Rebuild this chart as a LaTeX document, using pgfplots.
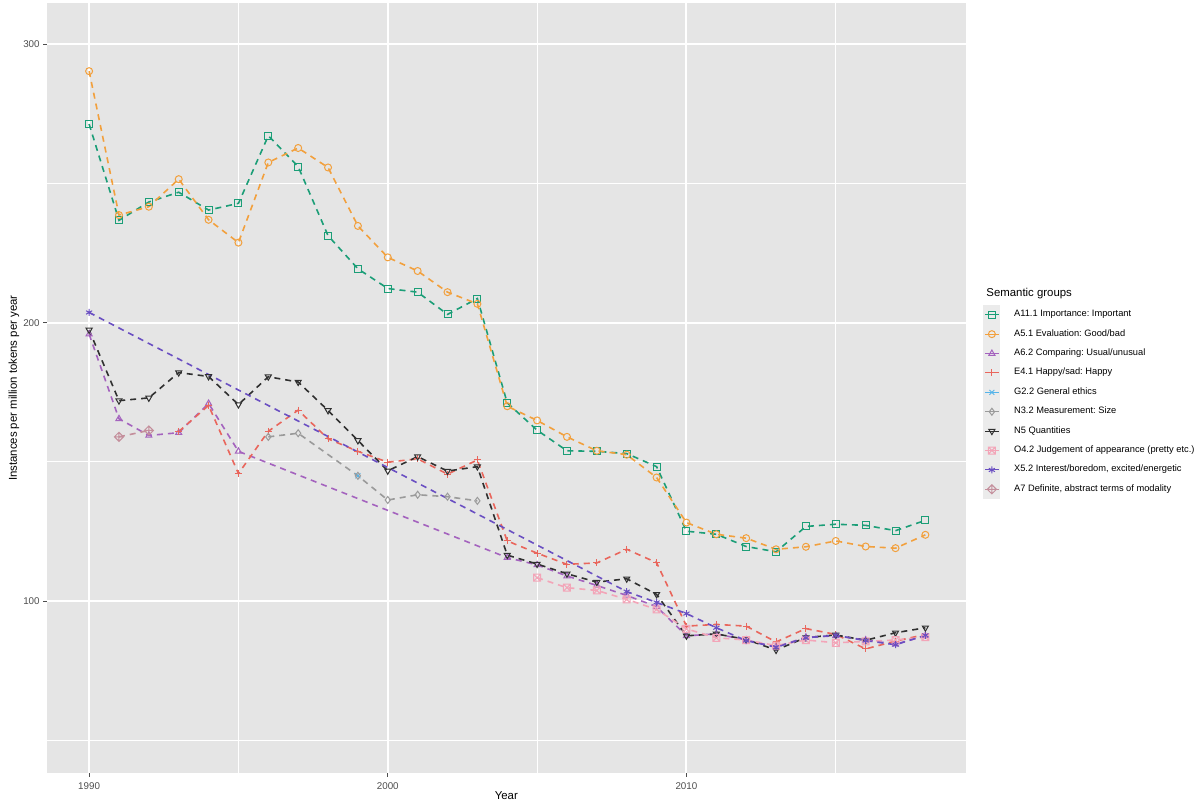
\documentclass[border=0pt]{standalone}
\usepackage{pgfplots}
\pgfplotsset{compat=1.18}
\usepackage{fontspec}
\setmainfont{Liberation Sans}
\frenchspacing

\definecolor{cA}{HTML}{1B9E77}
\definecolor{cB}{HTML}{F2A03D}
\definecolor{cC}{HTML}{A463BE}
\definecolor{cD}{HTML}{E9665C}
\definecolor{cE}{HTML}{56B4E9}
\definecolor{cF}{HTML}{9A9A9A}
\definecolor{cG}{HTML}{303030}
\definecolor{cH}{HTML}{F3A5B8}
\definecolor{cI}{HTML}{6A4FC2}
\definecolor{cJ}{HTML}{C48F9C}
\definecolor{panelbg}{HTML}{E5E5E5}
\definecolor{keybg}{HTML}{EBEBEB}
\definecolor{ticktext}{HTML}{4D4D4D}

\newcommand{\smallf}{\fontsize{4.65}{5.2}\selectfont}
\newcommand{\tickf}{\fontsize{4.9}{5.5}\selectfont}
\newcommand{\titlef}{\fontsize{5.7}{6.5}\selectfont}

\pgfdeclareplotmark{boxx}{%
  \pgfpathrectangle{\pgfqpoint{-\pgfplotmarksize}{-\pgfplotmarksize}}{\pgfqpoint{2\pgfplotmarksize}{2\pgfplotmarksize}}%
  \pgfpathmoveto{\pgfqpoint{-\pgfplotmarksize}{-\pgfplotmarksize}}\pgfpathlineto{\pgfqpoint{\pgfplotmarksize}{\pgfplotmarksize}}%
  \pgfpathmoveto{\pgfqpoint{-\pgfplotmarksize}{\pgfplotmarksize}}\pgfpathlineto{\pgfqpoint{\pgfplotmarksize}{-\pgfplotmarksize}}%
  \pgfusepathqstroke}
\pgfdeclareplotmark{diamondplus}{%
  \pgfpathmoveto{\pgfqpoint{0pt}{1.3\pgfplotmarksize}}\pgfpathlineto{\pgfqpoint{1.3\pgfplotmarksize}{0pt}}%
  \pgfpathlineto{\pgfqpoint{0pt}{-1.3\pgfplotmarksize}}\pgfpathlineto{\pgfqpoint{-1.3\pgfplotmarksize}{0pt}}\pgfpathclose
  \pgfpathmoveto{\pgfqpoint{0pt}{1.3\pgfplotmarksize}}\pgfpathlineto{\pgfqpoint{0pt}{-1.3\pgfplotmarksize}}%
  \pgfpathmoveto{\pgfqpoint{-1.3\pgfplotmarksize}{0pt}}\pgfpathlineto{\pgfqpoint{1.3\pgfplotmarksize}{0pt}}%
  \pgfusepathqstroke}

\pgfplotsset{
  ser/.style={line width=0.8pt, dash pattern=on 3pt off 2.5pt, mark size=1.75pt,
    mark options={solid, line width=0.5pt}},
}

\begin{document}
\begin{tikzpicture}
\useasboundingbox (-23.35pt,-15.85pt) rectangle (578.65pt,386.65pt);
\begin{axis}[
  at={(0pt,0pt)}, anchor=south west,
  scale only axis, width=459.65pt, height=385.15pt,
  xmin=1988.58, xmax=2019.36, ymin=38.1, ymax=314.9,
  axis background/.style={fill=panelbg},
  axis line style={draw=none},
  xtick={1990,2000,2010}, ytick={100,200,300},
  minor xtick={1995,2005,2015}, minor ytick={50,150,250},
  xticklabels={1990,2000,2010}, yticklabels={100,200,300},
  grid=both,
  major grid style={white, line width=1pt},
  minor grid style={white, line width=0.5pt},
  tick pos=left, tick align=outside,
  major tick length=1.75pt, minor tick length=0pt,
  tick style={ticktext, line width=0.5pt},
  ticklabel style={font=\tickf, text=ticktext},
  xticklabel style={anchor=north, inner sep=0pt, yshift=-2.6pt},
  yticklabel style={anchor=east, inner sep=0pt, xshift=-1.6pt},
  xlabel={Year}, ylabel={Instances per million tokens per year},
  every axis x label/.style={at={(rel axis cs:0.5,0)}, yshift=-11.35pt, anchor=center, font=\titlef},
  every axis y label/.style={at={(rel axis cs:0,0.5)}, xshift=-16.35pt, rotate=90, anchor=center, font=\titlef},
  legend style={at={(1.0188,0.6079)}, anchor=north west, draw=none, fill=none,
    inner sep=0pt, outer sep=0pt, row sep=0pt, column sep=0pt,
    nodes={inner sep=0pt, anchor=west, font=\smallf, text=black}},
  legend cell align=left,
  legend image code/.code={
    \fill[fill=keybg, draw=none] (0pt,-4.85pt) rectangle (8.6pt,4.85pt);
    \path (15pt,0pt);
    \draw[mark repeat=2, mark phase=2, solid, line width=0.5pt] plot coordinates {(0.9pt,0pt) (4.3pt,0pt) (7.7pt,0pt)};
  },
]
% A11.1
\addplot[ser, color=cA, mark=square] coordinates {
(1990,271.4) (1991,236.8) (1992,243.4) (1993,246.9) (1994,240.5) (1995,242.9)
(1996,267.2) (1997,256.1) (1998,231.3) (1999,219.4) (2000,212.3) (2001,211.0)
(2002,203.0) (2003,208.7) (2004,171.2) (2005,161.4) (2006,154.0) (2007,153.8)
(2008,153.0) (2009,148.3) (2010,125.1) (2011,124.0) (2012,119.6) (2013,117.7)
(2014,126.8) (2015,127.6) (2016,127.2) (2017,125.3) (2018,129.0)};
\addlegendentry{A11.1 Importance: Important}
% A5.1
\addplot[ser, color=cB, mark=o] coordinates {
(1990,290.4) (1991,238.7) (1992,241.7) (1993,251.6) (1994,237.0) (1995,228.8)
(1996,257.6) (1997,262.8) (1998,255.8) (1999,234.8) (2000,223.5) (2001,218.6)
(2002,211.0) (2003,206.8) (2004,170.0) (2005,164.9) (2006,159.0) (2007,154.0)
(2008,152.6) (2009,144.4) (2010,128.2) (2011,124.0) (2012,122.6) (2013,118.6)
(2014,119.5) (2015,121.6) (2016,119.6) (2017,119.0) (2018,123.8)};
\addlegendentry{A5.1 Evaluation: Good/bad}
% A6.2
\addplot[ser, color=cC, mark=triangle] coordinates {
(1990,195.9) (1991,165.5) (1992,159.5) (1993,160.5) (1994,171.0) (1995,153.8)
(2004,115.6) (2005,113.0) (2006,109.0) (2007,105.6) (2008,102.0) (2009,98.0)
(2010,87.5) (2011,88.2) (2012,86.0) (2013,83.5) (2014,87.0) (2015,87.5)
(2016,86.0) (2017,84.5) (2018,87.5)};
\addlegendentry{A6.2 Comparing: Usual/unusual}
% E4.1
\addplot[ser, color=cD, mark=+] coordinates {
(1993,160.9) (1994,170.3) (1995,145.8) (1996,161.0) (1997,168.6) (1998,158.3)
(1999,153.8) (2000,149.9) (2001,151.1) (2002,145.6) (2003,150.7) (2004,121.6)
(2005,117.2) (2006,113.2) (2007,113.7) (2008,118.6) (2009,113.8) (2010,91.0)
(2011,91.6) (2012,91.0) (2013,85.3) (2014,90.1) (2015,88.0) (2016,82.8)
(2017,85.6) (2018,88.0)};
\addlegendentry{E4.1 Happy/sad: Happy}
% G2.2
\addplot[ser, color=cE, mark=x] coordinates {(1999,145.0)};
\addlegendentry{G2.2 General ethics}
% N3.2
\addplot[ser, color=cF, mark=diamond] coordinates {
(1996,159.0) (1997,160.3) (1999,145.0) (2000,136.3) (2001,138.2) (2002,137.5) (2003,136.0)};
\addlegendentry{N3.2 Measurement: Size}
% N5
\addplot[ser, color=cG, mark=triangle, mark options={solid, line width=0.5pt, rotate=180}] coordinates {
(1990,197.4) (1991,172.0) (1992,173.0) (1993,182.1) (1994,180.7) (1995,170.6)
(1996,180.6) (1997,178.7) (1998,168.5) (1999,157.7) (2000,146.8) (2001,151.9)
(2002,146.7) (2003,148.3) (2004,116.5) (2005,113.3) (2006,109.8) (2007,106.8)
(2008,108.0) (2009,102.4) (2010,87.5) (2011,88.2) (2012,86.2) (2013,82.4)
(2014,86.9) (2015,87.8) (2016,85.9) (2017,88.6) (2018,90.4)};
\addlegendentry{N5 Quantities}
% O4.2
\addplot[ser, color=cH, mark=boxx] coordinates {
(2005,108.4) (2006,104.8) (2007,103.8) (2008,100.6) (2009,97.0) (2010,90.0)
(2011,86.8) (2012,86.0) (2013,84.0) (2014,86.0) (2015,85.0) (2016,85.5)
(2017,86.0) (2018,87.0)};
\addlegendentry{O4.2 Judgement of appearance (pretty etc.)}
% X5.2
\addplot[ser, color=cI, mark=asterisk] coordinates {
(1990,203.7) (2008,103.4) (2009,99.5) (2010,95.5) (2011,90.4) (2012,85.8)
(2013,83.4) (2014,86.8) (2015,87.7) (2016,85.8) (2017,84.3) (2018,87.7)};
\addlegendentry{X5.2 Interest/boredom, excited/energetic}
% A7
\addplot[ser, color=cJ, mark=diamondplus] coordinates {
(1991,159.0) (1992,161.3)};
\addlegendentry{A7 Definite, abstract terms of modality}
\end{axis}
\node[anchor=west, font=\titlef, inner sep=0pt] at (469.65pt,240pt) {Semantic groups};
\end{tikzpicture}
\end{document}
